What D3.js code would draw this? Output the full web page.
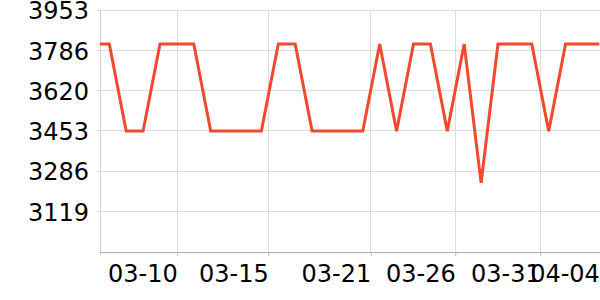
<!DOCTYPE html>
<html>
<head>
<meta charset="utf-8">
<script src="https://cdn.jsdelivr.net/npm/d3@7"></script>
<style>
  html, body { margin: 0; padding: 0; background: #fff; }
  svg { display: block; }
  text { font-family: "DejaVu Sans", sans-serif; }
</style>
</head>
<body>
<svg id="chart" width="600" height="300"></svg>
<script>
// ---- data ----
const dates = ["2024-03-05","2024-03-06","2024-03-07","2024-03-08","2024-03-09","2024-03-10",
  "2024-03-11","2024-03-12","2024-03-13","2024-03-14","2024-03-15","2024-03-16","2024-03-17",
  "2024-03-18","2024-03-19","2024-03-20","2024-03-21","2024-03-22","2024-03-23","2024-03-24",
  "2024-03-25","2024-03-26","2024-03-27","2024-03-28","2024-03-29","2024-03-30","2024-03-31",
  "2024-04-01","2024-04-02","2024-04-03","2024-04-04"];
const values = [3812,3812,3452,3452,3812,3812,3812,3452,3452,3452,3452,3812,3812,
  3452,3452,3452,3452,3812,3452,3812,3812,3452,3812,3238,3812,3812,3812,3452,3812,3812,3812];
const yTicks = [3119, 3286, 3453, 3620, 3786, 3953];
const yDomain = [2952, 3953];
const xDomain = ["2024-03-05T10:48", "2024-04-04T00:52"];
const xTickTimes = ["2024-03-10T00:30","2024-03-15T09:50","2024-03-21T11:15",
  "2024-03-26T11:15","2024-03-31T12:00","2024-04-04T00:00"];

// ---- layout ----
const svg = d3.select("#chart");
const mLeft = 100, mRight = 600, mTop = 10, mBottom = 252;
const parse = d3.timeParse("%Y-%m-%dT%H:%M");
const parseDay = d3.timeParse("%Y-%m-%d");

const x = d3.scaleTime().domain(xDomain.map(parse)).range([mLeft, mRight]);
const y = d3.scaleLinear().domain(yDomain).range([mBottom, mTop]);

const tickDates = xTickTimes.map(parse);

// horizontal gridlines
svg.append("g").selectAll("line").data(yTicks).join("line")
  .attr("x1", mLeft - 3).attr("x2", mRight)
  .attr("y1", d => y(d)).attr("y2", d => y(d))
  .attr("stroke", "#dcdcdc").attr("stroke-width", 1)
  .attr("shape-rendering", "crispEdges");

// vertical gridlines
svg.append("g").selectAll("line").data(tickDates.slice(0, -1)).join("line")
  .attr("x1", d => x(d)).attr("x2", d => x(d))
  .attr("y1", mTop).attr("y2", mBottom)
  .attr("stroke", "#dcdcdc").attr("stroke-width", 1)
  .attr("shape-rendering", "crispEdges");

// left axis line
svg.append("line")
  .attr("x1", mLeft).attr("x2", mLeft).attr("y1", mTop).attr("y2", mBottom + 3)
  .attr("stroke", "#d0d0d0").attr("shape-rendering", "crispEdges");

// y labels
const yAxis = d3.axisLeft(y).tickValues(yTicks).tickSize(0).tickPadding(11)
  .tickFormat(d3.format("d"));
const gy = svg.append("g").attr("transform", `translate(${mLeft},0)`).call(yAxis);
gy.select(".domain").remove();
gy.selectAll("text").attr("font-size", 24).attr("fill", "#000")
  .attr("font-family", "DejaVu Sans").attr("dy", "0.36em");

// x axis
const xAxis = d3.axisBottom(x).tickValues(tickDates).tickSize(4).tickPadding(9)
  .tickFormat(d3.timeFormat("%m-%d"));
const gx = svg.append("g").attr("transform", `translate(0,${mBottom})`).call(xAxis);
gx.select(".domain").attr("stroke", "#aaaaaa").attr("d", `M${mLeft},0.5H${mRight}`);
gx.selectAll(".tick line").attr("stroke", "#bbbbbb");
gx.selectAll(".tick").filter((d, i) => i === tickDates.length - 1).select("line").remove();
gx.selectAll("text").attr("font-size", 24).attr("fill", "#000")
  .attr("font-family", "DejaVu Sans").attr("text-anchor", "end");

// line
svg.append("clipPath").attr("id", "clip").append("rect")
  .attr("x", mLeft).attr("y", 0).attr("width", mRight - mLeft).attr("height", 300);

const pts = dates.map((d, i) => ({ t: parseDay(d), v: values[i] }));
svg.append("path").datum(pts)
  .attr("clip-path", "url(#clip)")
  .attr("fill", "none")
  .attr("stroke", "#ef4a2e")
  .attr("stroke-width", 3)
  .attr("stroke-linejoin", "miter")
  .attr("d", d3.line().x(p => x(p.t)).y(p => y(p.v)));
</script>
</body>
</html>
